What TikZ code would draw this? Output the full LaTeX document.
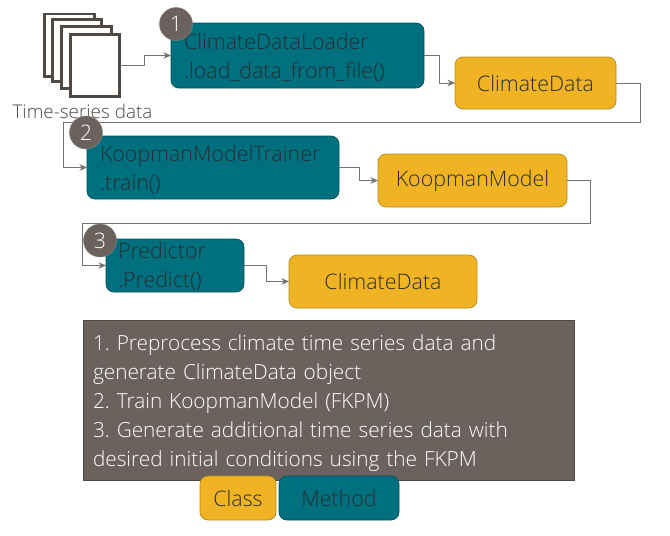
\documentclass[tikz,border=0pt]{standalone}
\usepackage{fontspec}
\setmainfont{Open Sans}[UprightFont=* Light]
\usetikzlibrary{arrows.meta,calc}
\definecolor{tealbox}{HTML}{00707F}
\definecolor{tealedge}{HTML}{00505C}
\definecolor{goldbox}{HTML}{F0B323}
\definecolor{goldedge}{HTML}{B58A1A}
\definecolor{darkbox}{HTML}{6B625E}
\definecolor{inktext}{HTML}{2A2E33}
\definecolor{wire}{HTML}{77706C}
\definecolor{docline}{HTML}{4F4843}
\tikzset{
  x=1pt,y=-1pt,
  every node/.style={font=\fontsize{21.4}{29}\selectfont\frenchspacing,text=inktext,outer sep=0pt},
  method/.style={draw=tealedge,line width=0.7pt,fill=tealbox,rounded corners=8pt,align=left,
    inner xsep=13pt,inner ysep=0pt,anchor=north west},
  classbox/.style={draw=goldedge,line width=0.7pt,fill=goldbox,rounded corners=8pt,align=center,
    inner sep=0pt,anchor=north west},
  badge/.style={circle,fill=darkbox,draw=darkbox!80!white,line width=0.5pt,minimum size=33pt,inner sep=0pt,text=white},
  sheet/.style={draw=docline,line width=2.9pt,fill=white,inner sep=0pt,anchor=north west},
  wirepath/.style={draw=wire,line width=1pt,-{Stealth[length=7.5pt,width=6.5pt]}},
}
\begin{document}
\begin{tikzpicture}
\useasboundingbox (0,0) rectangle (670,536);
\node[sheet,minimum width=49.6pt,minimum height=62.7pt] (sheetA) at (44.8,14) {};
\node[sheet,minimum width=49.4pt,minimum height=62.4pt] (sheetB) at (52.3,19.3) {};
\node[sheet,minimum width=49.9pt,minimum height=62.4pt] (sheetC) at (61.3,26.3) {};
\node[sheet,minimum width=49.4pt,minimum height=62.4pt] (sheetD) at (70.3,34.3) {};
\node[font=\fontsize{18.9}{20}\selectfont\frenchspacing,text=docline] (tsdata) at (82.5,111) {Time-series data};

\node[method,text width=227pt,minimum height=65pt] (loader) at (171,23) {\rule{0pt}{21pt}ClimateDataLoader\\.load\_data\_from\_file()};
\node[classbox,minimum width=161pt,minimum height=52pt] (data1) at (455,57) {ClimateData};
\node[method,text width=226pt,minimum height=63pt] (trainer) at (87,136) {\rule{0pt}{21pt}KoopmanModelTrainer\\.train()};
\node[classbox,minimum width=189pt,minimum height=53pt] (model) at (378,154) {KoopmanModel};
\node[method,inner xsep=12pt,text width=114pt,minimum height=53pt] (predictor) at (106,239) {\rule{0pt}{18.5pt}Predictor\\.Predict()};
\node[classbox,minimum width=188pt,minimum height=53pt] (data2) at (289,255) {ClimateData};

\node[font=\fontsize{20.8}{29}\selectfont\frenchspacing,draw=docline,line width=0.7pt,fill=darkbox,anchor=north west,text=white,align=left,
  inner xsep=10pt,inner ysep=0pt,text width=471pt,minimum height=160pt] (notes) at (83,320)
 {\rule{0pt}{22pt}1. Preprocess climate time series data and\\generate ClimateData object\\2. Train KoopmanModel (FKPM)\\3. Generate additional time series data with\\desired initial conditions using the FKPM};
\node[classbox,minimum width=76pt,minimum height=44pt] (legendclass) at (200,476) {Class};
\node[method,inner xsep=0pt,align=center,text width=120pt,minimum height=44pt] (legendmethod) at (279,476) {Method};

\coordinate (turnA) at (640,122.5);
\coordinate (turnB) at (63.5,122.5);
\coordinate (turnC) at (590,223);
\coordinate (turnD) at (82,223);

\draw[wirepath] (sheetD.east) -- ++(25,0) |- (loader.west);
\draw[wirepath] (loader.east) -- ++(15.5,0) |- (data1.west);
\draw[wirepath] (data1.east) -| (turnA) -- (turnB) |- (trainer.west);
\draw[wirepath] (trainer.east) -- ++(20,0) |- (model.west);
\draw[wirepath] (model.east) -| (turnC) -- (turnD) |- (predictor.west);
\draw[wirepath] (predictor.east) -- ++(22,0) |- (data2.west);

\node[badge] (one) at (176,24) {1};
\node[badge] (two) at (86,132.5) {2};
\node[badge] (three) at (100,240.5) {3};
\end{tikzpicture}
\end{document}
